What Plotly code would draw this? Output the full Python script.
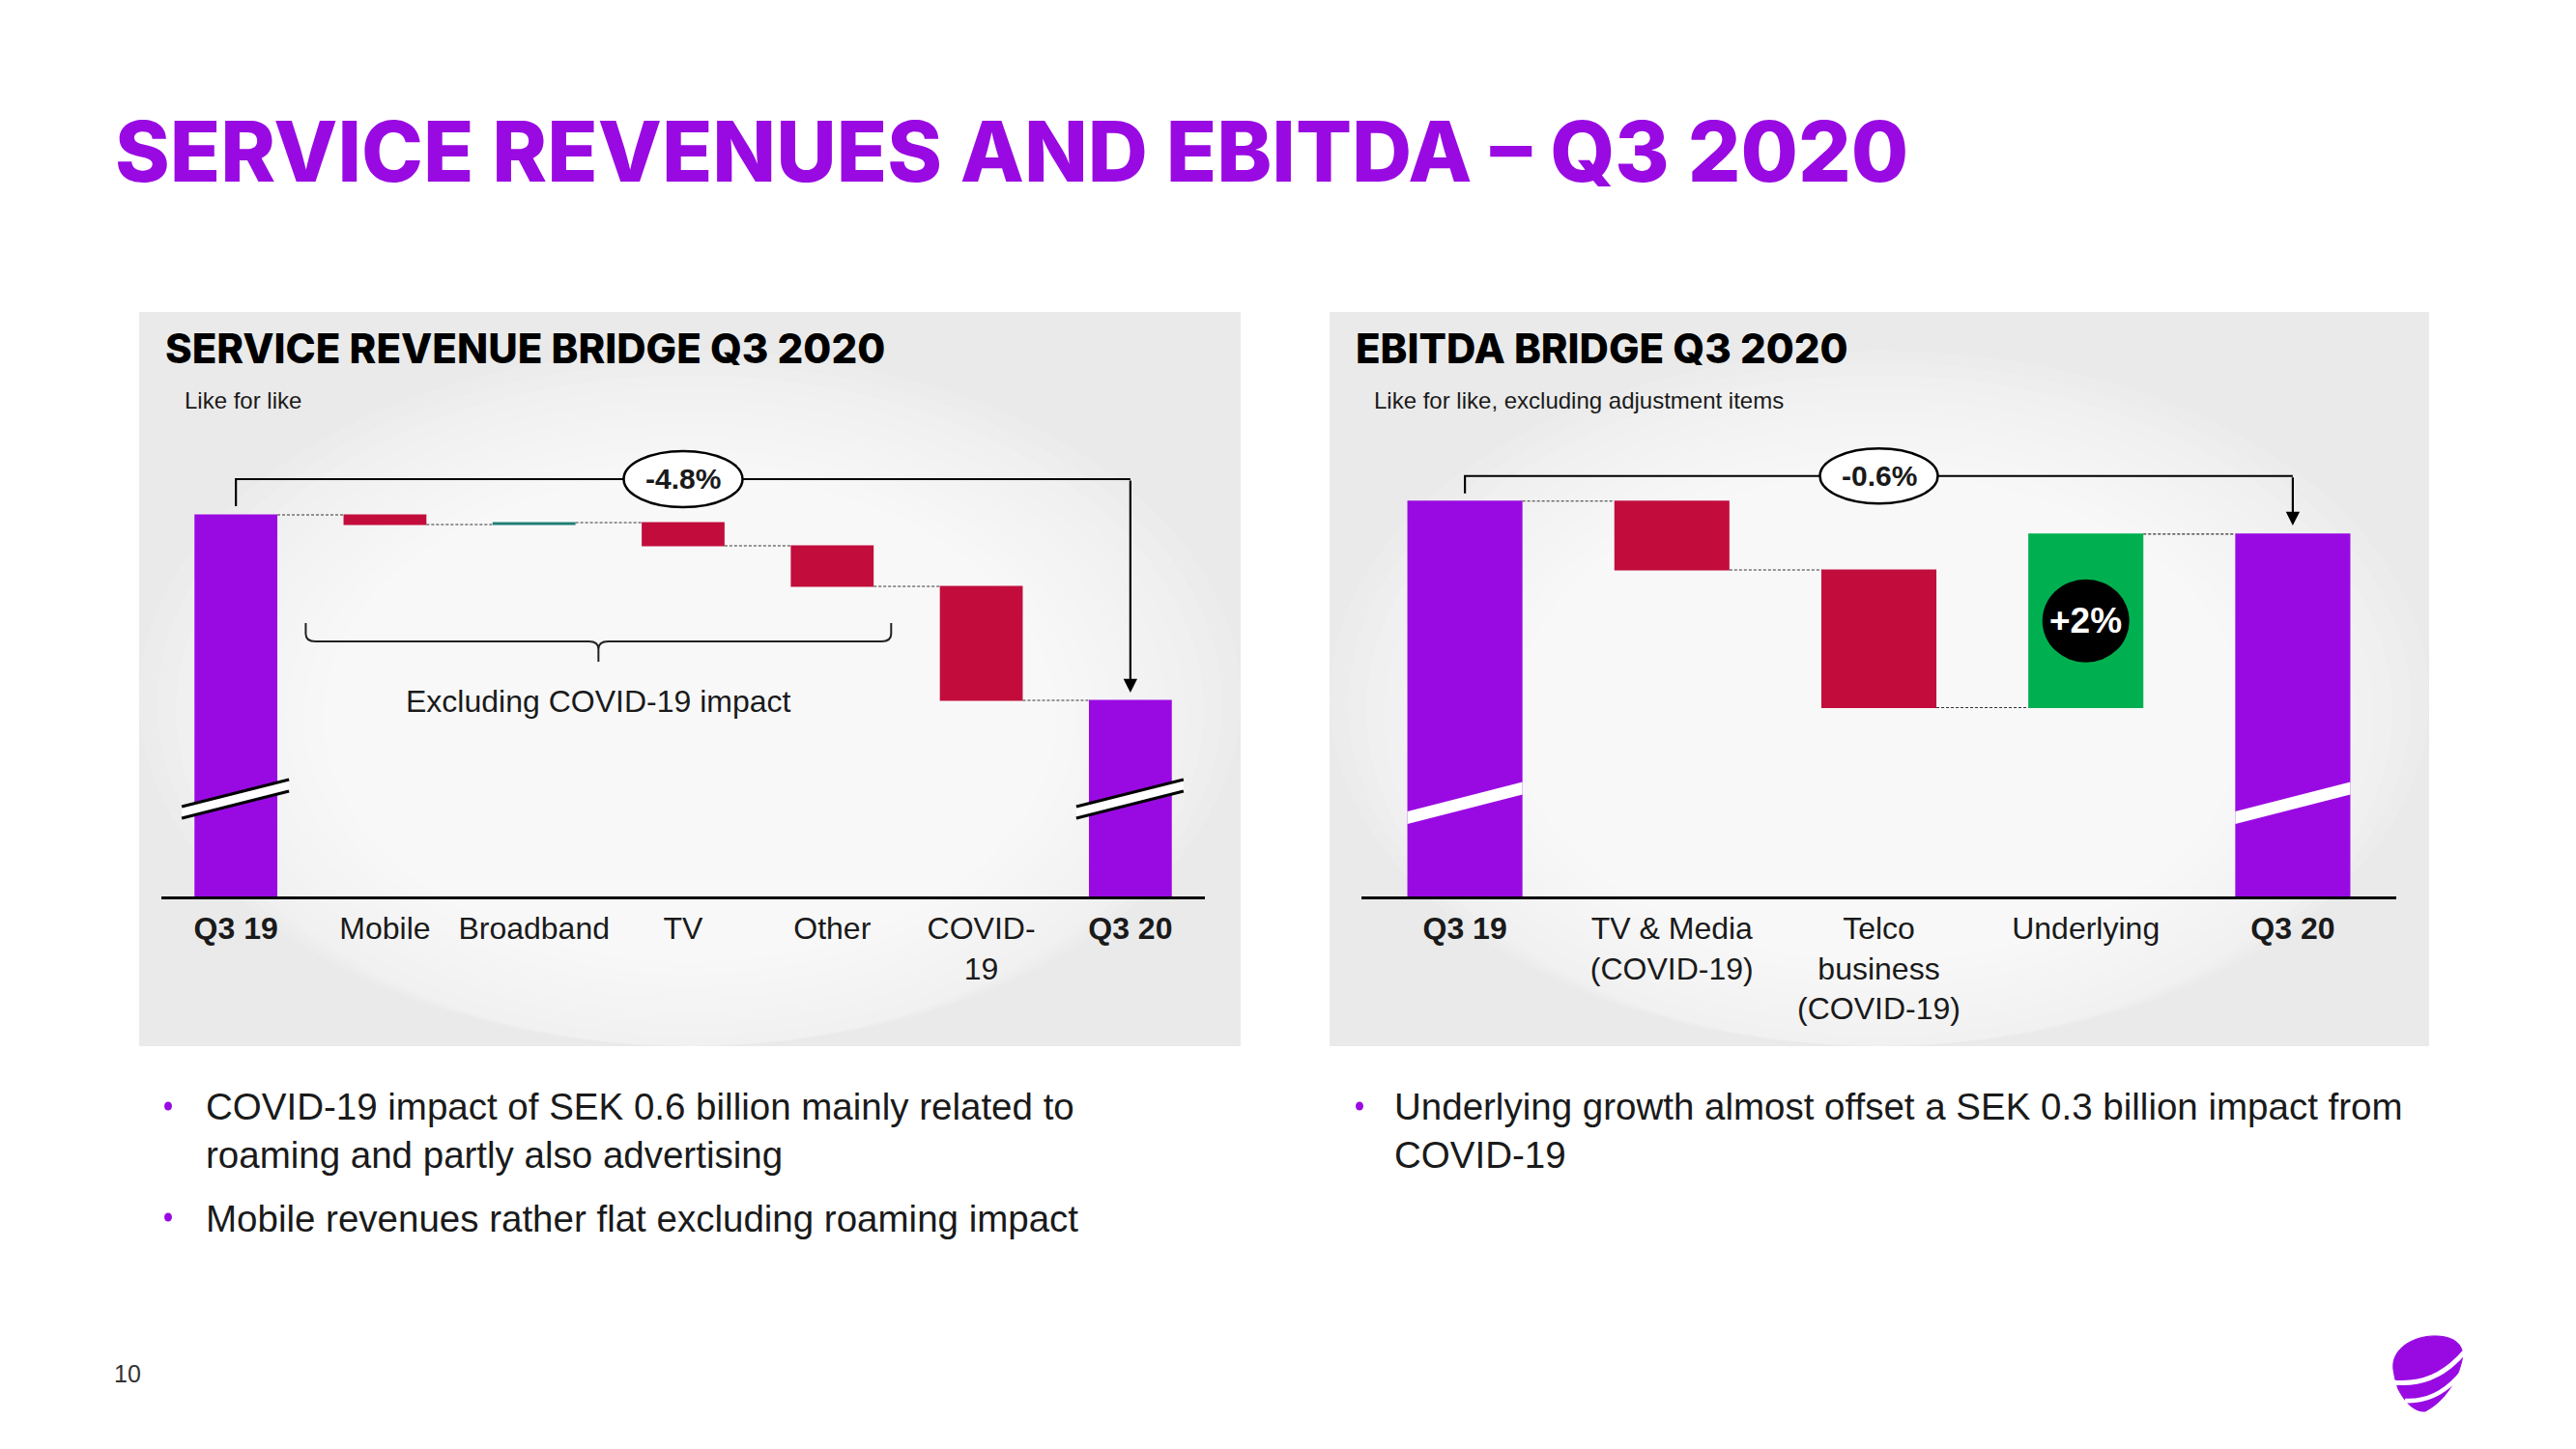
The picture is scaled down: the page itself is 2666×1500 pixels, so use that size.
import plotly.graph_objects as go

W, H = 2666, 1500

# ---------------- data ----------------
rev_categories = ["Q3 19", "Mobile", "Broadband", "TV", "Other", "COVID-19", "Q3 20"]
rev_ticktext = ["<b>Q3 19</b>", "Mobile", "Broadband", "TV", "Other", "COVID-<br>19", "<b>Q3 20</b>"]
rev_measures = ["absolute", "relative", "relative", "relative", "relative", "relative", "total"]
rev_values = [100.0, -0.25, 0.05, -0.60, -1.05, -2.95, 0]
rev_change_label = "-4.8%"
rev_brace_label = "Excluding COVID-19 impact"

ebitda_categories = ["Q3 19", "TV & Media (COVID-19)", "Telco business (COVID-19)", "Underlying", "Q3 20"]
ebitda_ticktext = ["<b>Q3 19</b>", "TV & Media<br>(COVID-19)", "Telco<br>business<br>(COVID-19)", "Underlying", "<b>Q3 20</b>"]
ebitda_measures = ["absolute", "relative", "relative", "relative", "total"]
ebitda_values = [100.0, -1.25, -2.50, 3.15, 0]
ebitda_change_label = "-0.6%"
ebitda_underlying_label = "+2%"

title_text = "SERVICE REVENUES AND EBITDA \u2013 Q3 2020"
left_title = "SERVICE REVENUE BRIDGE Q3 2020"
left_sub = "Like for like"
right_title = "EBITDA BRIDGE Q3 2020"
right_sub = "Like for like, excluding adjustment items"
left_bullets = ["COVID-19 impact of SEK 0.6 billion mainly related to<br>roaming and partly also advertising",
                "Mobile revenues rather flat excluding roaming impact"]
right_bullets = ["Underlying growth almost offset a SEK 0.3 billion impact from<br>COVID-19"]
page_number = "10"

# ---------------- style ----------------
PURPLE = "#990AE3"
RED = "#C20D3C"
TEAL = "#1F7F74"
GREEN = "#00B050"
TXT = "#1a1a1a"
FONT = "Liberation Sans, Arial, sans-serif"
HEAD_FONT = "Inter, Liberation Sans, Arial, sans-serif"
GAP = 0.444


def px_x(px):
    return px / W


def px_y(py):
    return 1 - py / H


AX_BOTTOM, PLOT_TOP = 928, 430
L_DOM = (167, 1247)
R_DOM = (1409, 2480)
L_XPU = (L_DOM[1] - L_DOM[0]) / len(rev_categories)
R_XPU = (R_DOM[1] - R_DOM[0]) / len(ebitda_categories)
L_YMIN, L_PPU = 90.125, 40.0
R_YMIN, R_PPU = 92.82, 57.0

fig = go.Figure()

fig.add_trace(go.Waterfall(
    x=list(range(len(rev_categories))), y=rev_values, measure=rev_measures,
    increasing=dict(marker=dict(color=TEAL, line=dict(width=0))),
    decreasing=dict(marker=dict(color=RED, line=dict(width=0))),
    totals=dict(marker=dict(color=PURPLE, line=dict(width=0))),
    connector=dict(line=dict(color="#333333", width=1.2, dash="3px,2px")),
    textinfo="none", hoverinfo="skip", xaxis="x", yaxis="y"))

fig.add_trace(go.Waterfall(
    x=list(range(len(ebitda_categories))), y=ebitda_values, measure=ebitda_measures,
    increasing=dict(marker=dict(color=GREEN, line=dict(width=0))),
    decreasing=dict(marker=dict(color=RED, line=dict(width=0))),
    totals=dict(marker=dict(color=PURPLE, line=dict(width=0))),
    connector=dict(line=dict(color="#333333", width=1.2, dash="3px,2px")),
    textinfo="none", hoverinfo="skip", xaxis="x2", yaxis="y2"))

tickfont = dict(family=FONT, size=32, color=TXT)
common_x = dict(showgrid=False, zeroline=False, showline=True, linecolor="black", linewidth=2.5,
                ticks="outside", ticklen=3, tickcolor="rgba(0,0,0,0)", tickfont=tickfont, fixedrange=True)
common_y = dict(showgrid=False, zeroline=False, visible=False, fixedrange=True)

shapes = []
annotations = []

# panel backgrounds (radial-ish gradient)
for (x0, y0, x1, y1) in [(144, 323, 1284, 1083), (1376, 323, 2514, 1083)]:
    shapes.append(dict(type="rect", xref="paper", yref="paper", layer="below",
                       x0=px_x(x0), x1=px_x(x1), y0=px_y(y1), y1=px_y(y0),
                       fillcolor="#eaeaea", line=dict(width=0)))
    cx, cy = (x0 + x1) / 2, (y0 + y1) / 2 + 40
    hw, hh = (x1 - x0) / 2, (y1 - y0) / 2
    N = 24
    for k in range(N):
        s = 1.0 - k * 0.8 / N
        shapes.append(dict(type="circle", xref="paper", yref="paper", layer="below",
                           x0=px_x(cx - hw * s), x1=px_x(cx + hw * s),
                           y0=px_y(min(cy + hh * s, y1)), y1=px_y(cy - hh * s),
                           fillcolor="rgba(255,255,255,0.12)", line=dict(width=0)))

# ---------- left chart decorations ----------
nL = len(rev_categories)
rev_start = rev_values[0]
rev_end = rev_start + sum(rev_values[1:-1])


def Lx(d):
    return d / L_XPU


def Ly(d):
    return d / L_PPU


hL = rev_start + Ly(37)
midL = (nL - 1) / 2
shapes.append(dict(type="path", xref="x", yref="y",
                   path=f"M 0,{rev_start + Ly(9)} L 0,{hL} L {nL - 1},{hL}",
                   line=dict(color="black", width=2.2)))
annotations.append(dict(x=nL - 1, y=rev_end + Ly(8), ax=nL - 1, ay=hL, xref="x", yref="y",
                        axref="x", ayref="y", text="", showarrow=True, arrowhead=2,
                        arrowsize=1.3, arrowwidth=2.2, arrowcolor="black", standoff=0))
shapes.append(dict(type="circle", xref="x", yref="y",
                   x0=midL - Lx(61.5), x1=midL + Lx(61.5), y0=hL - Ly(29), y1=hL + Ly(29),
                   fillcolor="white", line=dict(color="black", width=2.5)))
annotations.append(dict(x=midL, y=hL, xref="x", yref="y", text=f"<b>{rev_change_label}</b>",
                        showarrow=False, font=dict(family=FONT, size=30, color=TXT)))

# curly brace over the non-COVID items
bx0 = 1 - Lx(82)
bx1 = 4 + Lx(61)
bxm = (bx0 + bx1) / 2
by_top = L_YMIN + Ly(283)
by_h = L_YMIN + Ly(264)
by_tip = L_YMIN + Ly(243)
rx, ry = Lx(10), Ly(8)
brace = (f"M {bx0},{by_top} L {bx0},{by_h + ry} Q {bx0},{by_h} {bx0 + rx},{by_h} "
         f"L {bxm - rx},{by_h} Q {bxm},{by_h} {bxm},{by_h - ry} L {bxm},{by_tip} "
         f"M {bxm},{by_h - ry} Q {bxm},{by_h} {bxm + rx},{by_h} "
         f"L {bx1 - rx},{by_h} Q {bx1},{by_h} {bx1},{by_h + ry} L {bx1},{by_top}")
shapes.append(dict(type="path", xref="x", yref="y", path=brace, line=dict(color="#222", width=2)))
annotations.append(dict(x=bxm, y=L_YMIN + Ly(202), xref="x", yref="y", text=rev_brace_label,
                        showarrow=False, font=dict(family=FONT, size=32, color=TXT)))

# axis-break marks on total bars
for c in (0, nL - 1):
    xl, xr = c - Lx(56), c + Lx(55)
    yl, yr = L_YMIN + Ly(87), L_YMIN + Ly(115)
    hf = Ly(6)
    shapes.append(dict(type="path", xref="x", yref="y",
                       path=f"M {xl},{yl - hf} L {xr},{yr - hf} L {xr},{yr + hf} L {xl},{yl + hf} Z",
                       fillcolor="white", line=dict(width=0)))
    for s in (-1, 1):
        shapes.append(dict(type="line", xref="x", yref="y", x0=xl, x1=xr,
                           y0=yl + s * hf, y1=yr + s * hf, line=dict(color="black", width=3)))

# ---------- right chart decorations ----------
nR = len(ebitda_categories)
e_start = ebitda_values[0]
e_end = e_start + sum(ebitda_values[1:-1])


def Rx(d):
    return d / R_XPU


def Ry(d):
    return d / R_PPU


hR = e_start + Ry(26)
midR = (nR - 1) / 2
shapes.append(dict(type="path", xref="x2", yref="y2",
                   path=f"M 0,{e_start + Ry(8)} L 0,{hR} L {nR - 1},{hR}",
                   line=dict(color="black", width=2.2)))
annotations.append(dict(x=nR - 1, y=e_end + Ry(9), ax=nR - 1, ay=hR, xref="x2", yref="y2",
                        axref="x2", ayref="y2", text="", showarrow=True, arrowhead=2,
                        arrowsize=1.3, arrowwidth=2.2, arrowcolor="black", standoff=0))
shapes.append(dict(type="circle", xref="x2", yref="y2",
                   x0=midR - Rx(61), x1=midR + Rx(61), y0=hR - Ry(28.5), y1=hR + Ry(28.5),
                   fillcolor="white", line=dict(color="black", width=2.5)))
annotations.append(dict(x=midR, y=hR, xref="x2", yref="y2", text=f"<b>{ebitda_change_label}</b>",
                        showarrow=False, font=dict(family=FONT, size=30, color=TXT)))

# +2% badge on the underlying bar
u_idx = 3
u_bottom = e_start + sum(ebitda_values[1:u_idx])
u_mid = u_bottom + ebitda_values[u_idx] / 2
shapes.append(dict(type="circle", xref="x2", yref="y2",
                   x0=u_idx - Rx(45), x1=u_idx + Rx(45), y0=u_mid - Ry(43), y1=u_mid + Ry(43),
                   fillcolor="black", line=dict(width=0)))
annotations.append(dict(x=u_idx, y=u_mid, xref="x2", yref="y2", text=f"<b>{ebitda_underlying_label}</b>",
                        showarrow=False, font=dict(family=FONT, size=37, color="white")))

half_bar = (1 - GAP) / 2
for c in (0, nR - 1):
    xl, xr = c - half_bar, c + half_bar
    yl, yr = R_YMIN + Ry(81.5), R_YMIN + Ry(112)
    hf = Ry(6.5)
    shapes.append(dict(type="path", xref="x2", yref="y2",
                       path=f"M {xl},{yl - hf} L {xr},{yr - hf} L {xr},{yr + hf} L {xl},{yl + hf} Z",
                       fillcolor="white", line=dict(width=0)))

# ---------- texts ----------
def txt(x, y, text, size, color=TXT, weight="normal", anchor="left", family=FONT):
    annotations.append(dict(x=px_x(x), y=px_y(y), xref="paper", yref="paper", text=text,
                            showarrow=False, xanchor=anchor, yanchor="middle", align="left",
                            font=dict(family=family, size=size, color=color, weight=weight)))


txt(117, 157, title_text, 86, color=PURPLE, weight=800, family=HEAD_FONT)
txt(169, 360, left_title, 42, weight=800, color="black", family=HEAD_FONT)
txt(1401, 360, right_title, 42, weight=800, color="black", family=HEAD_FONT)
txt(189, 414, left_sub, 24)
txt(1420, 414, right_sub, 24)

# bullets
bullet_font = dict(family=FONT, size=38.5, color=TXT)
annotations.append(dict(x=px_x(211), y=px_y(1122), xref="paper", yref="paper", text=left_bullets[0],
                        showarrow=False, xanchor="left", yanchor="top", align="left", font=bullet_font))
annotations.append(dict(x=px_x(211), y=px_y(1238), xref="paper", yref="paper", text=left_bullets[1],
                        showarrow=False, xanchor="left", yanchor="top", align="left", font=bullet_font))
annotations.append(dict(x=px_x(1441), y=px_y(1122), xref="paper", yref="paper", text=right_bullets[0],
                        showarrow=False, xanchor="left", yanchor="top", align="left", font=bullet_font))
for (bx, by) in [(174, 1145), (174, 1260), (1407, 1145)]:
    shapes.append(dict(type="circle", xref="paper", yref="paper",
                       x0=px_x(bx - 4), x1=px_x(bx + 4), y0=px_y(by + 4.5), y1=px_y(by - 4.5),
                       fillcolor=PURPLE, line=dict(width=0)))

txt(132, 1422, page_number, 25, color="#333", anchor="center")

# ---------- logo ----------
def P(x, y):
    return f"{px_x(x)},{px_y(y)}"


logo = (f"M {P(2477, 1418)} C {P(2474, 1395)} {P(2500, 1382)} {P(2522, 1383)} "
        f"C {P(2545, 1384)} {P(2552, 1396)} {P(2547, 1412)} "
        f"C {P(2542, 1432)} {P(2528, 1452)} {P(2510, 1461)} "
        f"C {P(2498, 1462)} {P(2488, 1450)} {P(2482, 1438)} "
        f"C {P(2479, 1430)} {P(2478, 1424)} {P(2477, 1418)} Z")
shapes.append(dict(type="path", xref="paper", yref="paper", path=logo, fillcolor=PURPLE,
                   line=dict(color=PURPLE, width=1)))
shapes.append(dict(type="path", xref="paper", yref="paper",
                   path=f"M {P(2476, 1431)} Q {P(2520, 1436)} {P(2550, 1400)}",
                   line=dict(color="white", width=5)))
shapes.append(dict(type="path", xref="paper", yref="paper",
                   path=f"M {P(2489, 1450)} Q {P(2522, 1452)} {P(2547, 1422)}",
                   line=dict(color="white", width=4.5)))

fig.update_layout(
    width=W, height=H, margin=dict(l=0, r=0, t=0, b=0),
    paper_bgcolor="white", plot_bgcolor="rgba(0,0,0,0)", showlegend=False,
    waterfallgap=GAP,
    xaxis=dict(domain=[px_x(L_DOM[0]), px_x(L_DOM[1])], range=[-0.5, nL - 0.5],
               tickvals=list(range(nL)), ticktext=rev_ticktext, anchor="y", **common_x),
    yaxis=dict(domain=[px_y(AX_BOTTOM), px_y(PLOT_TOP)],
               range=[L_YMIN, L_YMIN + (AX_BOTTOM - PLOT_TOP) / L_PPU], anchor="x", **common_y),
    xaxis2=dict(domain=[px_x(R_DOM[0]), px_x(R_DOM[1])], range=[-0.5, nR - 0.5],
                tickvals=list(range(nR)), ticktext=ebitda_ticktext, anchor="y2", **common_x),
    yaxis2=dict(domain=[px_y(AX_BOTTOM), px_y(PLOT_TOP)],
                range=[R_YMIN, R_YMIN + (AX_BOTTOM - PLOT_TOP) / R_PPU], anchor="x2", **common_y),
    shapes=shapes, annotations=annotations,
)

fig.write_html("out.html", config={"displayModeBar": False},
               post_script="document.body.style.margin='0';document.body.style.overflow='hidden';")
